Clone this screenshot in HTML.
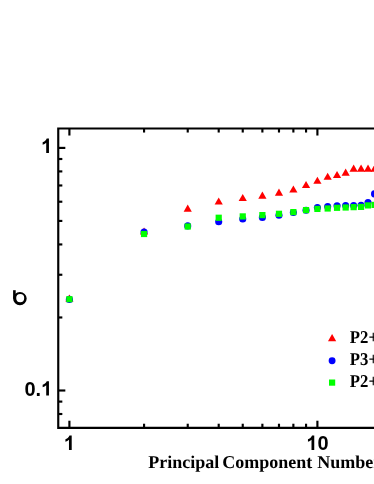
<!DOCTYPE html>
<html><head><meta charset="utf-8"><title>chart</title>
<style>html,body{margin:0;padding:0;background:#fff;}body{width:374px;height:484px;overflow:hidden;}svg{display:block;will-change:transform;}.t{font-family:"Liberation Sans",sans-serif;font-weight:bold;font-size:20px;fill:#000;}.s{font-family:"Liberation Serif",serif;font-weight:bold;fill:#000;text-rendering:geometricPrecision;}</style></head><body>
<svg width="374" height="484" viewBox="0 0 374 484">
<rect width="374" height="484" fill="#fff"/>
<g stroke="#000" stroke-width="2.15" fill="none" stroke-linecap="butt">
<path stroke-linejoin="miter" d="M380 128.45 H58.25 V427.8 H380"/>
<path d="M69.40 427.8 v-7.08"/>
<path d="M69.40 128.45 v7.08"/>
<path d="M144.06 427.8 v-4.08"/>
<path d="M144.06 128.45 v4.08"/>
<path d="M187.73 427.8 v-4.08"/>
<path d="M187.73 128.45 v4.08"/>
<path d="M218.71 427.8 v-4.08"/>
<path d="M218.71 128.45 v4.08"/>
<path d="M242.74 427.8 v-4.08"/>
<path d="M242.74 128.45 v4.08"/>
<path d="M262.38 427.8 v-4.08"/>
<path d="M262.38 128.45 v4.08"/>
<path d="M278.98 427.8 v-4.08"/>
<path d="M278.98 128.45 v4.08"/>
<path d="M293.37 427.8 v-4.08"/>
<path d="M293.37 128.45 v4.08"/>
<path d="M306.05 427.8 v-4.08"/>
<path d="M306.05 128.45 v4.08"/>
<path d="M317.40 427.8 v-7.08"/>
<path d="M317.40 128.45 v7.08"/>
<path d="M58.25 147.90 h7.08"/>
<path d="M58.25 390.50 h7.08"/>
<path d="M58.25 317.47 h4.08"/>
<path d="M58.25 274.75 h4.08"/>
<path d="M58.25 244.44 h4.08"/>
<path d="M58.25 220.93 h4.08"/>
<path d="M58.25 201.72 h4.08"/>
<path d="M58.25 185.48 h4.08"/>
<path d="M58.25 171.41 h4.08"/>
<path d="M58.25 159.00 h4.08"/>
<path d="M58.25 414.01 h4.08"/>
<path d="M58.25 401.60 h4.08"/>
</g>
<path fill="#ff0000" d="M69.40 294.50 L73.50 301.55 L65.30 301.55 Z"/>
<path fill="#ff0000" d="M144.06 227.40 L148.16 234.45 L139.96 234.45 Z"/>
<path fill="#ff0000" d="M187.73 204.60 L191.83 211.65 L183.63 211.65 Z"/>
<path fill="#ff0000" d="M218.71 197.50 L222.81 204.55 L214.61 204.55 Z"/>
<path fill="#ff0000" d="M242.74 193.90 L246.84 200.95 L238.64 200.95 Z"/>
<path fill="#ff0000" d="M262.38 191.60 L266.48 198.65 L258.28 198.65 Z"/>
<path fill="#ff0000" d="M278.98 188.60 L283.08 195.65 L274.88 195.65 Z"/>
<path fill="#ff0000" d="M293.37 185.40 L297.47 192.45 L289.27 192.45 Z"/>
<path fill="#ff0000" d="M306.05 180.90 L310.15 187.95 L301.95 187.95 Z"/>
<path fill="#ff0000" d="M317.40 176.70 L321.50 183.75 L313.30 183.75 Z"/>
<path fill="#ff0000" d="M327.67 172.80 L331.77 179.85 L323.57 179.85 Z"/>
<path fill="#ff0000" d="M337.04 171.00 L341.14 178.05 L332.94 178.05 Z"/>
<path fill="#ff0000" d="M345.66 168.60 L349.76 175.65 L341.56 175.65 Z"/>
<path fill="#ff0000" d="M353.64 164.60 L357.74 171.65 L349.54 171.65 Z"/>
<path fill="#ff0000" d="M361.07 164.60 L365.17 171.65 L356.97 171.65 Z"/>
<path fill="#ff0000" d="M368.02 164.60 L372.12 171.65 L363.92 171.65 Z"/>
<path fill="#ff0000" d="M374.55 164.60 L378.65 171.65 L370.45 171.65 Z"/>
<circle fill="#0000ff" cx="69.40" cy="299.40" r="3.55"/>
<circle fill="#0000ff" cx="144.06" cy="232.10" r="3.55"/>
<circle fill="#0000ff" cx="187.73" cy="225.90" r="3.55"/>
<circle fill="#0000ff" cx="218.71" cy="221.80" r="3.55"/>
<circle fill="#0000ff" cx="242.74" cy="219.00" r="3.55"/>
<circle fill="#0000ff" cx="262.38" cy="217.40" r="3.55"/>
<circle fill="#0000ff" cx="278.98" cy="215.20" r="3.55"/>
<circle fill="#0000ff" cx="293.37" cy="212.50" r="3.55"/>
<circle fill="#0000ff" cx="306.05" cy="210.20" r="3.55"/>
<circle fill="#0000ff" cx="317.40" cy="207.50" r="3.55"/>
<circle fill="#0000ff" cx="327.67" cy="206.50" r="3.55"/>
<circle fill="#0000ff" cx="337.04" cy="205.80" r="3.55"/>
<circle fill="#0000ff" cx="345.66" cy="205.60" r="3.55"/>
<circle fill="#0000ff" cx="353.64" cy="205.60" r="3.55"/>
<circle fill="#0000ff" cx="361.07" cy="205.30" r="3.55"/>
<circle fill="#0000ff" cx="368.02" cy="202.50" r="3.55"/>
<circle fill="#0000ff" cx="374.55" cy="193.90" r="3.55"/>
<rect fill="#00ff00" x="66.30" y="296.10" width="6.2" height="6.2"/>
<rect fill="#00ff00" x="140.96" y="230.90" width="6.2" height="6.2"/>
<rect fill="#00ff00" x="184.63" y="223.40" width="6.2" height="6.2"/>
<rect fill="#00ff00" x="215.61" y="214.65" width="6.2" height="6.2"/>
<rect fill="#00ff00" x="239.64" y="213.30" width="6.2" height="6.2"/>
<rect fill="#00ff00" x="259.28" y="212.00" width="6.2" height="6.2"/>
<rect fill="#00ff00" x="275.88" y="210.70" width="6.2" height="6.2"/>
<rect fill="#00ff00" x="290.27" y="209.00" width="6.2" height="6.2"/>
<rect fill="#00ff00" x="302.95" y="207.00" width="6.2" height="6.2"/>
<rect fill="#00ff00" x="314.30" y="205.80" width="6.2" height="6.2"/>
<rect fill="#00ff00" x="324.57" y="205.40" width="6.2" height="6.2"/>
<rect fill="#00ff00" x="333.94" y="204.70" width="6.2" height="6.2"/>
<rect fill="#00ff00" x="342.56" y="204.40" width="6.2" height="6.2"/>
<rect fill="#00ff00" x="350.54" y="204.05" width="6.2" height="6.2"/>
<rect fill="#00ff00" x="357.97" y="203.80" width="6.2" height="6.2"/>
<rect fill="#00ff00" x="364.92" y="202.30" width="6.2" height="6.2"/>
<rect fill="#00ff00" x="371.45" y="201.80" width="6.2" height="6.2"/>
<path fill="#000" d="M48.95 153.00 L46.21 153.00 L46.21 142.66 Q44.70 144.06 42.66 144.74 L42.66 142.25 Q43.74 141.90 45.00 140.92 T46.72 138.62 L48.95 138.62 Z"/>
<text class="t" x="41.08" y="395.6" text-anchor="end">0.</text>
<path fill="#000" d="M48.95 395.60 L46.21 395.60 L46.21 385.26 Q44.70 386.66 42.66 387.34 L42.66 384.85 Q43.74 384.50 45.00 383.52 T46.72 381.23 L48.95 381.23 Z"/>
<path fill="#000" d="M71.71 450.00 L68.97 450.00 L68.97 439.66 Q67.46 441.06 65.42 441.74 L65.42 439.25 Q66.50 438.90 67.76 437.92 T69.48 435.62 L71.71 435.62 Z"/>
<path fill="#000" d="M314.25 450.00 L311.51 450.00 L311.51 439.66 Q310.00 441.06 307.96 441.74 L307.96 439.25 Q309.04 438.90 310.30 437.92 T312.02 435.62 L314.25 435.62 Z"/>
<text class="t" x="317.5" y="450">0</text>
<path fill="#000" fill-rule="evenodd" d="M13.1 298.6 A6.8 6.55 0 1 1 26.7 298.6 A6.8 6.55 0 1 1 13.1 298.6 Z M16.2 298.1 A4.0 4.2 0 1 0 24.2 298.1 A4.0 4.2 0 1 0 16.2 298.1 Z"/>
<rect fill="#000" x="13.1" y="290.2" width="2.6" height="8.4"/>
<text class="s" y="467.7" style="font-size:18px;"><tspan x="148.25">Principal</tspan> <tspan x="222.2">Component</tspan> <tspan x="317.3">Number</tspan></text>
<text class="s" transform="translate(349.8 342.85) scale(0.93 1)" x="0" y="0" style="font-size:18px;">P2+P3</text>
<text class="s" transform="translate(349.8 364.72) scale(0.93 1)" x="0" y="0" style="font-size:18px;">P3+P4</text>
<text class="s" transform="translate(349.8 386.59) scale(0.93 1)" x="0" y="0" style="font-size:18px;">P2+P4</text>
<path fill="#ff0000" d="M332.10 334.10 L336.20 341.15 L328.00 341.15 Z"/>
<circle fill="#0000ff" cx="332.1" cy="360.7" r="3.45"/>
<rect fill="#00ff00" x="329.0" y="379.5" width="6.2" height="6.2"/>
</svg></body></html>
